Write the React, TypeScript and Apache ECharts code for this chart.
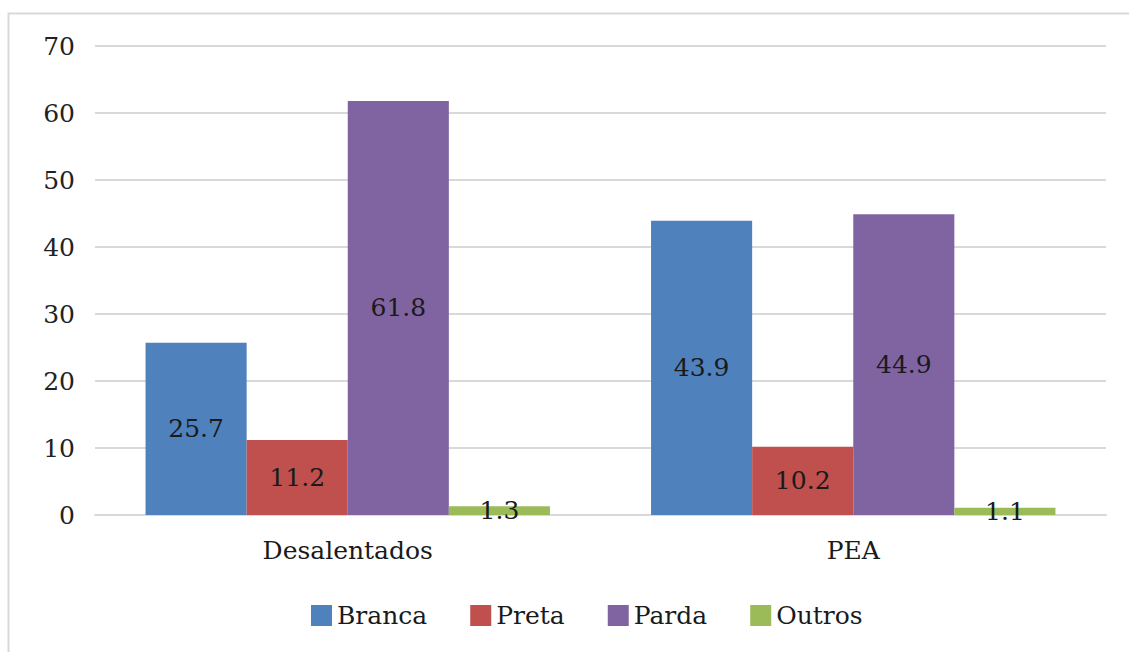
import React, { useEffect, useRef } from "react";
import * as echarts from "echarts";

const categories = ["Desalentados", "PEA"];
const seriesNames = ["Branca", "Preta", "Parda", "Outros"];
const branca = [25.7, 43.9];
const preta = [11.2, 10.2];
const parda = [61.8, 44.9];
const outros = [1.3, 1.1];
const seriesData = [branca, preta, parda, outros];
const colors = ["#4F81BD", "#C0504D", "#8064A2", "#9BBB59"];
const yTicks = { min: 0, max: 70, interval: 10 };

const FONT = "DejaVu Serif";
const FS = 25;

export default function App() {
  const ref = useRef<HTMLDivElement>(null);
  useEffect(() => {
    if (!ref.current) return;
    const chart = echarts.init(ref.current, null, { renderer: "svg" });
    chart.setOption({
      animation: false,
      backgroundColor: "#ffffff",
      textStyle: { fontFamily: FONT },
      graphic: [
        {
          type: "rect",
          shape: { x: 8.5, y: 13.5, width: 1200, height: 800 },
          style: { fill: "none", stroke: "#d9d9d9", lineWidth: 2 },
          silent: true,
        },
      ],
      grid: { left: 95, right: 23, top: 46, bottom: 137 },
      legend: {
        bottom: 19,
        left: 306,
        itemWidth: 21,
        itemHeight: 21,
        itemGap: 43,
        icon: "rect",
        textStyle: { fontFamily: FONT, fontSize: FS, color: "#1a1a1a", padding: [0, 0, 0, 0] },
        data: seriesNames,
      },
      xAxis: {
        type: "category",
        data: categories,
        axisLine: { lineStyle: { color: "#d9d9d9", width: 2 } },
        axisTick: { show: false },
        axisLabel: { fontFamily: FONT, fontSize: FS, color: "#1a1a1a", margin: 23 },
      },
      yAxis: {
        type: "value",
        min: yTicks.min,
        max: yTicks.max,
        interval: yTicks.interval,
        axisLine: { show: false },
        axisTick: { show: false },
        splitLine: { lineStyle: { color: "#d9d9d9", width: 2 } },
        axisLabel: { fontFamily: FONT, fontSize: FS, color: "#222", margin: 20 },
      },
      series: seriesNames.map((name, i) => ({
        name,
        type: "bar",
        data: seriesData[i],
        barGap: "0%",
        barCategoryGap: "20%",
        itemStyle: { color: colors[i] },
        label: {
          show: true,
          position: "inside",
          fontFamily: FONT,
          fontSize: FS,
          color: "#1a1a1a",
          formatter: (p: any) => p.value.toFixed(1),
        },
      })),
    });
    return () => chart.dispose();
  }, []);
  return (
    <div
      ref={ref}
      style={{ position: "fixed", left: 0, top: 0, width: 1129, height: 652 }}
    />
  );
}
